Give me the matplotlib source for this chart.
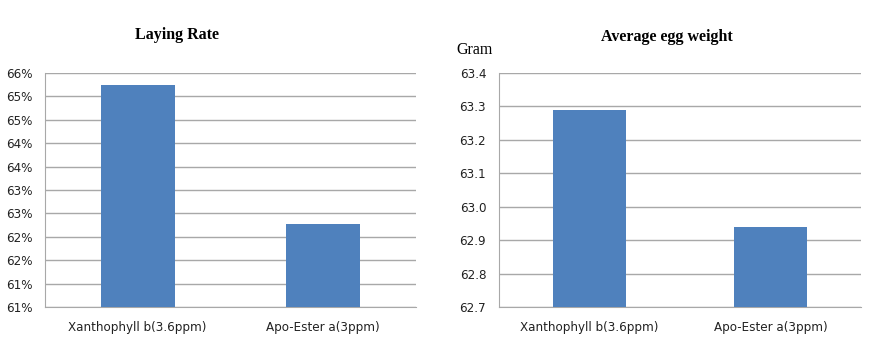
import math
import matplotlib
matplotlib.use("Agg")
import matplotlib.pyplot as plt
from matplotlib.ticker import FuncFormatter

categories = ["Xanthophyll b(3.6ppm)", "Apo-Ester a(3ppm)"]
laying_rate = [65.24, 62.27]      # percent
egg_weight = [63.29, 62.94]       # gram

rate_ticks = [60.5 + 0.5 * i for i in range(11)]
weight_ticks = [62.7, 62.8, 62.9, 63.0, 63.1, 63.2, 63.3, 63.4]

bar_color = "#4F81BD"
grid_color = "#A8A8A8"

fig = plt.figure(figsize=(8.86, 3.56), dpi=100)
fig.patch.set_facecolor("white")


def style(ax, ticks):
    ax.set_ylim(ticks[0], ticks[-1])
    ax.set_yticks(ticks)
    ax.set_xlim(-0.5, 1.5)
    ax.set_xticks(range(len(categories)))
    ax.set_xticklabels(categories)
    ax.grid(axis="y", color=grid_color, linewidth=1)
    ax.set_axisbelow(True)
    for s in ["top", "right"]:
        ax.spines[s].set_visible(False)
    ax.spines["left"].set_color(grid_color)
    ax.spines["bottom"].set_color(grid_color)
    ax.tick_params(axis="y", length=0, pad=9)
    ax.tick_params(axis="x", length=0, pad=10)


def fix_labels(ax):
    for t in ax.get_xticklabels() + ax.get_yticklabels():
        t.set_family("DejaVu Sans")
        t.set_stretch("condensed")
        t.set_fontsize(9.5)
        t.set_color("#222222")


# left: laying rate
ax1 = fig.add_axes([0.0508, 0.1368, 0.4184, 0.659])
ax1.bar(range(len(categories)), laying_rate, width=0.4, color=bar_color, zorder=3)
style(ax1, rate_ticks)
ax1.yaxis.set_major_formatter(FuncFormatter(lambda v, p: "%d%%" % math.floor(v + 0.5)))
fix_labels(ax1)
fig.text(177 / 886, 1 - 35 / 356, "Laying Rate", ha="center", va="center",
         family="Liberation Serif", fontweight="bold", fontsize=11.5)

# right: egg weight
ax2 = fig.add_axes([0.5629, 0.1368, 0.4089, 0.659])
ax2.bar(range(len(categories)), egg_weight, width=0.4, color=bar_color, zorder=3)
style(ax2, weight_ticks)
ax2.yaxis.set_major_formatter(FuncFormatter(lambda v, p: "%.1f" % v))
fix_labels(ax2)
fig.text(667 / 886, 1 - 37 / 356, "Average egg weight", ha="center", va="center",
         family="Liberation Serif", fontweight="bold", fontsize=11.5)
fig.text(475 / 886, 1 - 50 / 356, "Gram", ha="center", va="center",
         family="Liberation Serif", fontsize=11.5)

fig.savefig("out.png", dpi=100)
